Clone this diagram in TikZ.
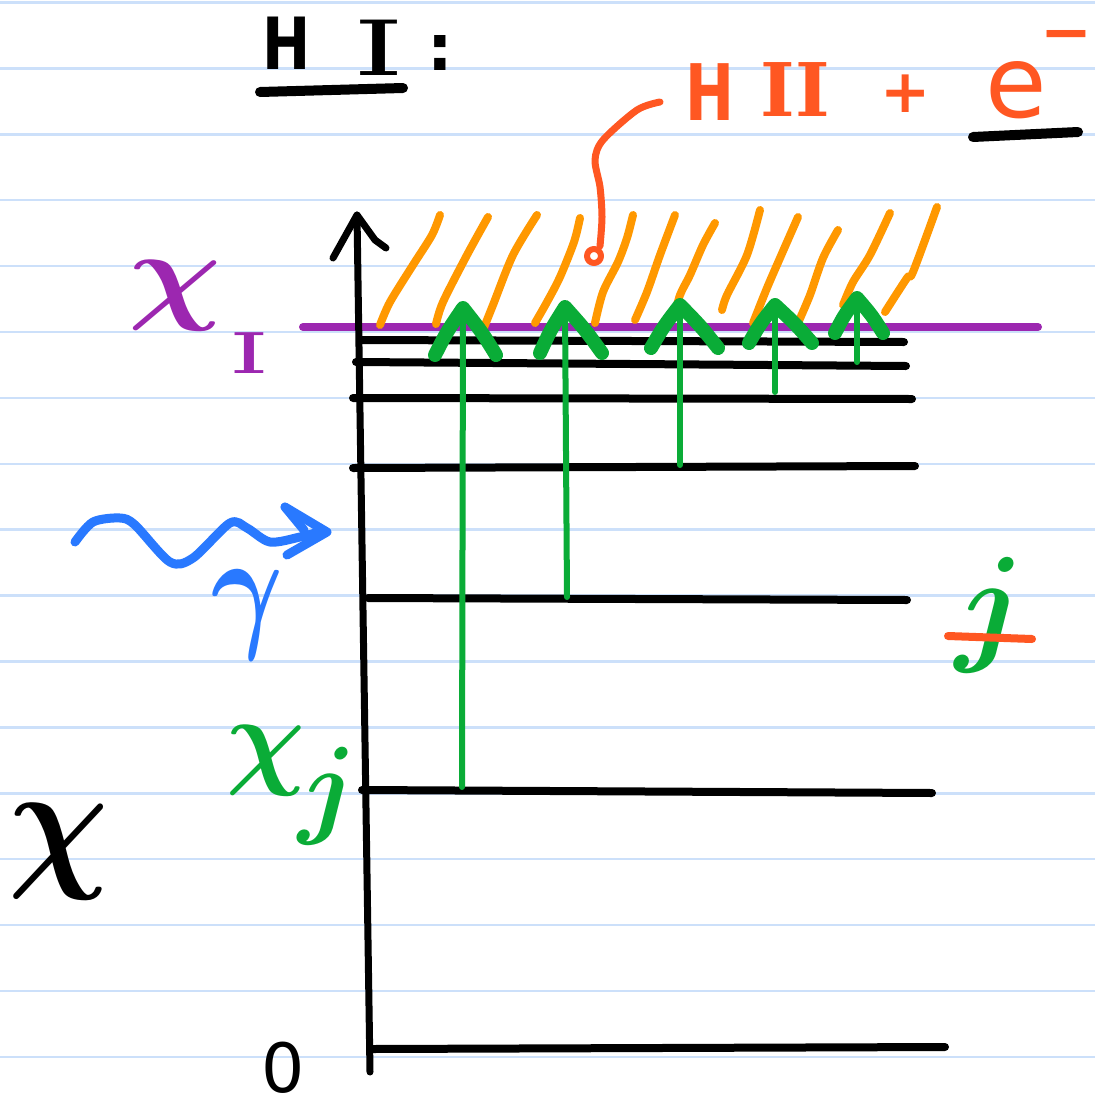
\documentclass[tikz,border=0pt]{standalone}
\usepackage{fontspec}
\setmainfont{DejaVu Sans}
\newfontfamily\numfont{DejaVu Serif}
\usepackage{graphicx}
\definecolor{ruled}{RGB}{204,224,250}
\definecolor{hatch}{RGB}{255,152,0}
\definecolor{redor}{RGB}{255,87,34}
\definecolor{purp}{RGB}{156,39,176}
\definecolor{grn}{RGB}{10,172,55}
\definecolor{blu}{RGB}{41,121,255}
\newcommand{\fs}[1]{\fontsize{#1}{#1}\selectfont}
\begin{document}
\begin{tikzpicture}[x=1pt,y=-1pt,line cap=round,line join=round,
  levelline/.style={line width=8pt,black},
  hatchline/.style={line width=8pt,hatch},
  gshaft/.style={line width=6pt,grn},
  ghead/.style={line width=14pt,grn},
  lbl/.style={inner sep=0pt,anchor=center}]
\fill[white] (0,0) rectangle (1095,1111);
\useasboundingbox (0,0) rectangle (1095,1111);
% ruled paper
\foreach \k in {0,...,16}
  \draw[ruled,line width=2.5pt,line cap=butt] (0,{2.5+65.9*\k}) -- (1095,{2.5+65.9*\k});
% ionisation line
\draw[purp,line width=8pt] (303,327) -- (1038,327);
% continuum hatching
\draw[hatchline] plot[smooth] coordinates {(380,325) (390,302) (413,265) (432,235) (440,215)};
\draw[hatchline] plot[smooth] coordinates {(436,324) (443,302) (467,255) (488,217)};
\draw[hatchline] plot[smooth] coordinates {(483,330) (493,305) (513,255) (537,215)};
\draw[hatchline] plot[smooth] coordinates {(535,323) (547,302) (560,277) (574,242) (580,218)};
\draw[hatchline] plot[smooth] coordinates {(595,323) (603,292) (618,262) (627,238) (633,215)};
\draw[hatchline] plot[smooth] coordinates {(635,320) (647,292) (660,255) (675,215)};
\draw[hatchline] plot[smooth] coordinates {(674,318) (680,295) (690,275) (703,245) (715,223)};
\draw[hatchline] plot[smooth] coordinates {(722,310) (727,295) (747,255) (760,210)};
\draw[hatchline] plot[smooth] coordinates {(753,323) (767,288) (780,258) (798,217)};
\draw[hatchline] plot[smooth] coordinates {(798,323) (810,295) (823,258) (838,230)};
\draw[hatchline] plot[smooth] coordinates {(843,305) (853,282) (870,255) (890,213)};
\draw[hatchline] plot[smooth] coordinates {(885,312) (907,278) (913,272) (937,207)};
% energy levels
\draw[levelline] (362,340) -- (904,342);
\draw[levelline] (356,362) -- (906,366);
\draw[levelline] (353,398) -- (912,399);
\draw[levelline] (353,468) -- (915,466);
\draw[levelline] (368,598) -- (907,600);
\draw[levelline] (362,790) -- (932,793);
\draw[levelline] (372,1049) -- (945,1047);
% axis
\coordinate (axb) at (370,1072);
\coordinate (axt) at (357,215);
\draw[line width=7pt] (axb) -- (axt);
\draw[line width=7pt] (333,258) -- (axt) -- (375,240) -- (386,248);
% green transitions
\foreach \sx/\sy/\tx/\ty/\lx/\ly/\rx/\ry [count=\i] in
  {462/787/463/308/435/355/496/355,
   567/597/565/307/540/353/602/353,
   680/465/680/305/651/348/718/348,
   775/392/775/305/749/343/812/343,
   857/362/857/298/835/333/883/333}{
  \coordinate (s\i) at (\sx,\sy);
  \coordinate (t\i) at (\tx,\ty);
  \draw[gshaft] (s\i) -- (t\i);
  \draw[ghead] (\lx,\ly) .. controls ({(\lx+\tx)/2-2},{(\ly+\ty)/2}) .. (t\i)
     .. controls ({(\rx+\tx)/2+2},{(\ry+\ty)/2}) .. (\rx,\ry);
}
% callout to HII + e-
\draw[redor,line width=7pt] plot[smooth] coordinates {(660,102) (637,110) (603,140) (595,160) (600,187) (602,217) (600,246)};
\draw[redor,line width=6pt] (594,256) circle[radius=7];
% photon
\draw[blu,line width=9pt] plot[smooth] coordinates {(75,542) (93,522) (120,518) (135,525) (170,562) (193,558) (230,523) (247,528) (270,542) (300,537) (322,531)};
\draw[blu,line width=9pt] (285,507) -- (327,532) -- (287,555);
\draw[blu,line width=9pt] (285,507) -- (304,530);
% title
\node[lbl] (tH) at (287,43) {\fs{72}\bfseries\scalebox{0.8}[1]{H}};
\node[lbl] (tI) at (379,48) {\fs{76}\numfont\scalebox{1.7}[1]{I}};
\node[lbl] (tc) at (440,53) {\fs{64}\bfseries :};
\draw[line width=10pt] (260,92) -- (403,88);
% HII + e-
\node[lbl,text=redor] (pH) at (710,92) {\fs{78}\bfseries\scalebox{0.75}[1]{H}};
\node[lbl,text=redor] (pII) at (795,90) {\fs{74}\numfont\bfseries II};
\node[lbl,text=redor] (pplus) at (906,94) {\fs{60}\bfseries +};
\node[lbl,text=redor] (pe) at (1016,90) {\fs{100}e};
\node[lbl,text=redor] (pm) at (1066,42) {\fs{62}\bfseries −};
\draw[line width=10pt] (973,137) -- (1078,132);
% left labels
\node[lbl,text=purp] (chiI) at (175,296) {\scalebox{13}[11]{\boldmath$\chi$}};
\node[lbl,text=purp] (chiIs) at (249,353) {\fs{56}\numfont\scalebox{1.8}[1]{I}};
\node[lbl,text=blu] (gam) at (247,615) {\scalebox{11}[14]{\boldmath$\gamma$}};
\node[lbl,text=grn] (chij) at (292,785) {\scalebox{11}{\boldmath$\chi$\kern-0.6pt\raisebox{-4.5pt}{$j$}}};
\node[lbl] (chi) at (59,852) {\scalebox{14}[15]{\boldmath$\chi$}};
\node[lbl] (zero) at (283,1068) {\fs{68}0};
\node[lbl,text=grn] (jr) at (990,615) {\scalebox{13}{\boldmath$j$}};
\draw[redor,line width=8pt] (948,636) -- (1032,639);
\end{tikzpicture}
\end{document}
